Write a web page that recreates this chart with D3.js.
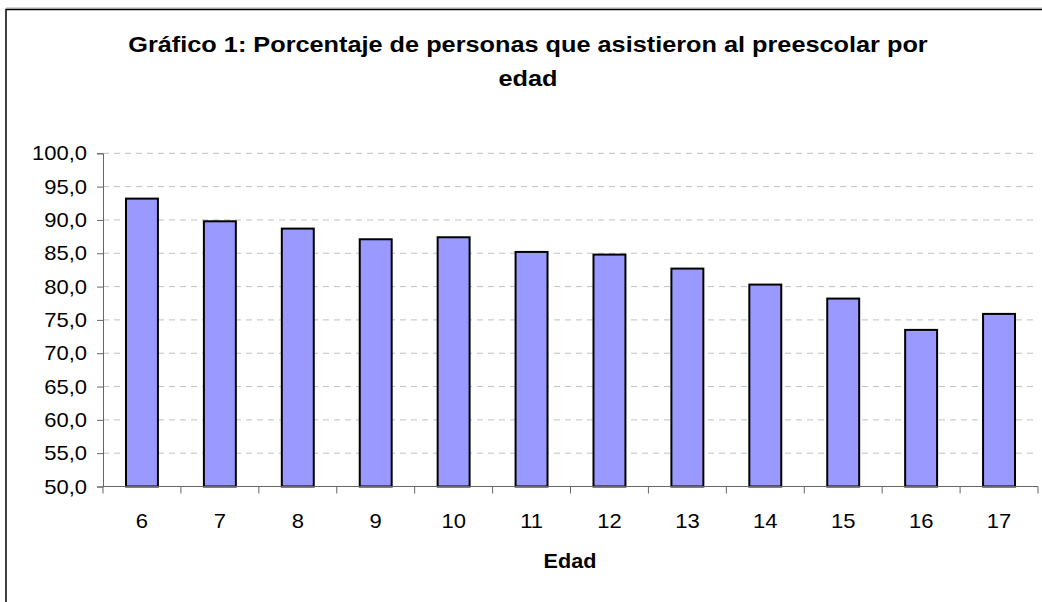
<!DOCTYPE html>
<html>
<head>
<meta charset="utf-8">
<script src="https://cdn.jsdelivr.net/npm/d3@7"></script>
<style>
  body { margin: 0; background: #fff; }
  text { font-family: "Liberation Sans", Arial, sans-serif; fill: #000; }
</style>
</head>
<body>
<div id="chart"></div>
<script>
const ages = ["6", "7", "8", "9", "10", "11", "12", "13", "14", "15", "16", "17"];
const percentages = [93.2, 89.8, 88.7, 87.1, 87.4, 85.2, 84.8, 82.7, 80.3, 78.2, 73.5, 75.9];
const yTicks = [50, 55, 60, 65, 70, 75, 80, 85, 90, 95, 100];
const titleLines = ["Gráfico 1: Porcentaje de personas que asistieron al preescolar por", "edad"];
const xTitle = "Edad";

const W = 1042, H = 602;
const plot = {left: 103, right: 1038, top: 153.3, bottom: 486.5};
const stretch = 1.1;

const svg = d3.select("#chart").append("svg")
  .attr("width", W)
  .attr("height", H);

// frame
svg.append("line")
  .attr("x1", 6).attr("x2", W).attr("y1", 8).attr("y2", 8)
  .attr("stroke", "#c8c8c8").attr("stroke-width", 1.5);
svg.append("rect")
  .attr("x", 6).attr("y", 9.5)
  .attr("width", W + 10).attr("height", H + 10)
  .attr("fill", "none")
  .attr("stroke", "#000")
  .attr("stroke-width", 1.5);

const x = d3.scaleBand()
  .domain(ages)
  .range([plot.left, plot.right])
  .paddingInner(0.59)
  .paddingOuter(0.295);

const y = d3.scaleLinear()
  .domain([50, 100])
  .range([plot.bottom, plot.top]);

// gridlines
svg.append("g")
  .selectAll("line")
  .data(yTicks.filter(d => d > 50))
  .join("line")
  .attr("x1", plot.left).attr("x2", plot.right)
  .attr("y1", d => y(d)).attr("y2", d => y(d))
  .attr("stroke", "#c0c0c0")
  .attr("stroke-width", 1)
  .attr("stroke-dasharray", "6,5");

// bars
svg.append("g")
  .selectAll("rect")
  .data(percentages)
  .join("rect")
  .attr("x", (d, i) => x(ages[i]))
  .attr("y", d => y(d))
  .attr("width", x.bandwidth())
  .attr("height", d => y(50) - y(d))
  .attr("fill", "#9999ff")
  .attr("stroke", "#000")
  .attr("stroke-width", 2);

// y axis
const yAxis = svg.append("g")
  .attr("transform", `translate(${plot.left},0)`)
  .call(d3.axisLeft(y).tickValues(yTicks).tickSize(6).tickFormat(""));
yAxis.select(".domain").attr("stroke", "#666");
yAxis.selectAll(".tick line").attr("stroke", "#666");

svg.append("g")
  .selectAll("text")
  .data(yTicks)
  .join("text")
  .attr("transform", d => `translate(87,${y(d) + 7}) scale(${stretch},1)`)
  .attr("text-anchor", "end")
  .attr("font-size", 20)
  .text(d => d3.format(".1f")(d).replace(".", ","));

// x axis: ticks sit between categories
const step = x.step();
const bounds = ages.map(a => x(a) - step * x.paddingInner() / 2).concat([plot.right]);
svg.append("line")
  .attr("x1", plot.left).attr("x2", plot.right)
  .attr("y1", y(50)).attr("y2", y(50))
  .attr("stroke", "#666");
svg.append("g")
  .selectAll("line")
  .data(bounds)
  .join("line")
  .attr("x1", d => d).attr("x2", d => d)
  .attr("y1", y(50)).attr("y2", y(50) + 7)
  .attr("stroke", "#666");

svg.append("g")
  .selectAll("text")
  .data(ages)
  .join("text")
  .attr("transform", d => `translate(${x(d) + x.bandwidth() / 2},${y(50) + 41}) scale(${stretch},1)`)
  .attr("text-anchor", "middle")
  .attr("font-size", 20)
  .text(d => d);

// titles
svg.append("g")
  .selectAll("text")
  .data(titleLines)
  .join("text")
  .attr("transform", (d, i) => `translate(528,${52 + i * 34}) scale(1.15,1)`)
  .attr("text-anchor", "middle")
  .attr("font-size", 22)
  .attr("font-weight", "bold")
  .text(d => d);

svg.append("text")
  .attr("transform", `translate(570,568) scale(1.08,1)`)
  .attr("text-anchor", "middle")
  .attr("font-size", 20)
  .attr("font-weight", "bold")
  .text(xTitle);
</script>
</body>
</html>
